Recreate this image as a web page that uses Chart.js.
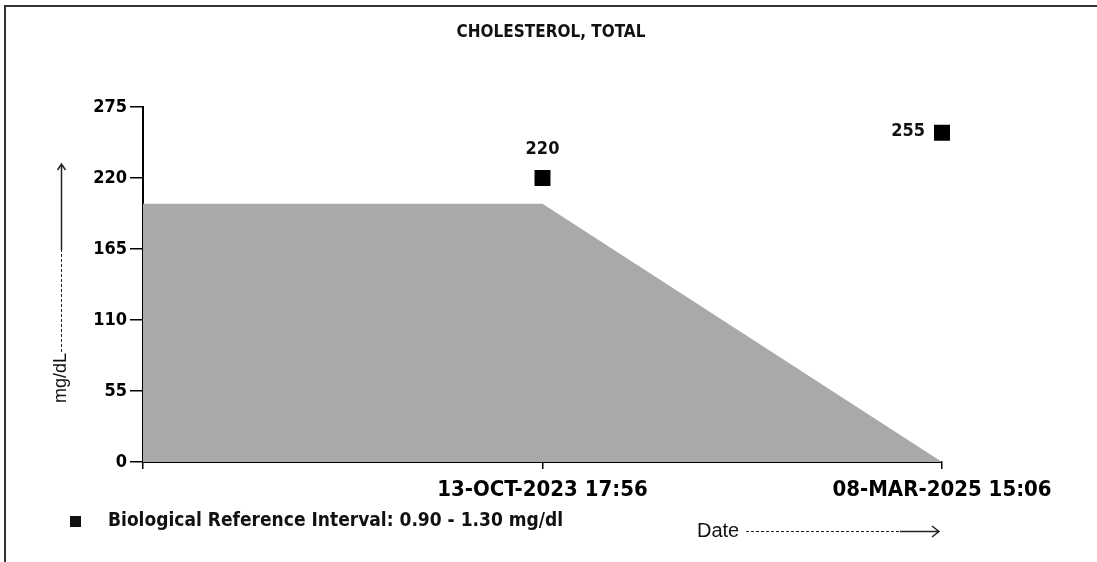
<!DOCTYPE html>
<html>
<head>
<meta charset="utf-8">
<script src="https://cdn.jsdelivr.net/npm/chart.js@4.4.1/dist/chart.umd.min.js"></script>
<style>
  html, body { margin: 0; padding: 0; background: #fff; }
  #chart { display: block; }
</style>
</head>
<body>
<canvas id="chart" width="1097" height="562"></canvas>
<script>
// Chart data
const titleText = 'CHOLESTEROL, TOTAL';
const dateLabels = ['', '13-OCT-2023 17:56', '08-MAR-2025 15:06'];
const resultValues = [null, 220, 255];
const referenceBand = [200, 200, 0];
const yTicks = [0, 55, 110, 165, 220, 275];
const yTitle = 'mg/dL';
const xTitle = 'Date';
const legendText = 'Biological Reference Interval: 0.90 - 1.30 mg/dl';

const FONT = '"DejaVu Sans Condensed", "DejaVu Sans", sans-serif';
const PLAIN = '"Liberation Sans", Arial, sans-serif';

// frame, title, legend, axis titles and value labels
const decorPlugin = {
    id: 'decor',
    beforeDraw(chart) {
        const ctx = chart.ctx;
        ctx.save();
        ctx.fillStyle = '#fff';
        ctx.fillRect(0, 0, chart.width, chart.height);
        ctx.strokeStyle = '#333';
        ctx.lineWidth = 2;
        ctx.beginPath();
        ctx.moveTo(5, chart.height);
        ctx.lineTo(5, 6);
        ctx.lineTo(chart.width, 6);
        ctx.stroke();
        ctx.restore();
    },
    afterDraw(chart) {
        const ctx = chart.ctx;
        ctx.save();
        ctx.fillStyle = '#111';
        ctx.strokeStyle = '#222';

        // title
        ctx.font = 'bold 17px ' + FONT;
        ctx.textAlign = 'center';
        ctx.textBaseline = 'middle';
        ctx.fillText(titleText, 551, 33);

        // value labels
        const meta = chart.getDatasetMeta(1);
        ctx.font = 'bold 18px ' + FONT;
        meta.data.forEach((pt, i) => {
            const v = resultValues[i];
            if (v == null) return;
            if (i === resultValues.length - 1) {
                ctx.textAlign = 'right';
                ctx.fillText(String(v), pt.x - 17, pt.y - 1);
            } else {
                ctx.textAlign = 'center';
                ctx.fillText(String(v), pt.x, pt.y - 29);
            }
        });

        // legend
        ctx.fillRect(70, 516, 11, 11);
        ctx.textAlign = 'left';
        ctx.font = 'bold 19px ' + FONT;
        ctx.fillText(legendText, 108, 521);

        // x title with arrow
        ctx.font = '20px ' + PLAIN;
        ctx.fillText(xTitle, 697, 531);
        ctx.lineWidth = 1;
        ctx.setLineDash([3, 2]);
        ctx.beginPath();
        ctx.moveTo(746, 531.5);
        ctx.lineTo(900, 531.5);
        ctx.stroke();
        ctx.setLineDash([]);
        ctx.lineWidth = 1.5;
        ctx.beginPath();
        ctx.moveTo(900, 531.5);
        ctx.lineTo(939, 531.5);
        ctx.moveTo(932, 526);
        ctx.lineTo(939, 531.5);
        ctx.lineTo(932, 537);
        ctx.stroke();

        // y title with arrow (rotated)
        ctx.translate(61, 403);
        ctx.rotate(-Math.PI / 2);
        ctx.font = '18px ' + PLAIN;
        ctx.fillText(yTitle, 0, 0);
        const w = ctx.measureText(yTitle).width;
        ctx.lineWidth = 1;
        ctx.setLineDash([3, 2]);
        ctx.beginPath();
        ctx.moveTo(w + 1, 0.5);
        ctx.lineTo(153, 0.5);
        ctx.stroke();
        ctx.setLineDash([]);
        ctx.lineWidth = 1.5;
        ctx.beginPath();
        ctx.moveTo(153, 0.5);
        ctx.lineTo(239, 0.5);
        ctx.moveTo(233, -3.5);
        ctx.lineTo(239, 0.5);
        ctx.lineTo(233, 4.5);
        ctx.stroke();
        ctx.restore();
    }
};

new Chart(document.getElementById('chart'), {
    type: 'line',
    data: {
        labels: dateLabels,
        datasets: [
            {
                label: 'Reference',
                data: referenceBand,
                fill: 'origin',
                backgroundColor: '#a9a9a9',
                borderWidth: 0,
                pointRadius: 0,
                tension: 0
            },
            {
                label: 'Result',
                data: resultValues,
                showLine: false,
                pointStyle: 'rect',
                pointRadius: 11.3,
                pointHoverRadius: 11.3,
                backgroundColor: '#000',
                borderColor: '#000',
                borderWidth: 0
            }
        ]
    },
    options: {
        responsive: false,
        animation: false,
        layout: { padding: { left: 0, right: 155, top: 107, bottom: 60 } },
        plugins: {
            legend: { display: false },
            title: { display: false },
            tooltip: { enabled: false }
        },
        scales: {
            x: {
                z: 1,
                offset: false,
                afterFit: s => { s.height = 40; },
                grid: { display: true, drawOnChartArea: false, drawTicks: true, tickLength: 7, color: '#000', lineWidth: 1.5 },
                border: { display: true, color: '#000', width: 2 },
                ticks: {
                    color: '#000',
                    padding: 8,
                    maxRotation: 0,
                    autoSkip: false,
                    font: { family: FONT, size: 22, weight: 'bold' }
                }
            },
            y: {
                z: 1,
                min: 0,
                max: 275,
                afterFit: s => { s.width = 143; },
                afterBuildTicks: s => { s.ticks = yTicks.map(v => ({ value: v })); },
                grid: { display: true, drawOnChartArea: false, drawTicks: true, tickLength: 13, color: '#000', lineWidth: 1.5 },
                border: { display: true, color: '#000', width: 2 },
                ticks: {
                    color: '#000',
                    padding: 3,
                    font: { family: FONT, size: 18, weight: 'bold' }
                }
            }
        }
    },
    plugins: [decorPlugin]
});
</script>
</body>
</html>
